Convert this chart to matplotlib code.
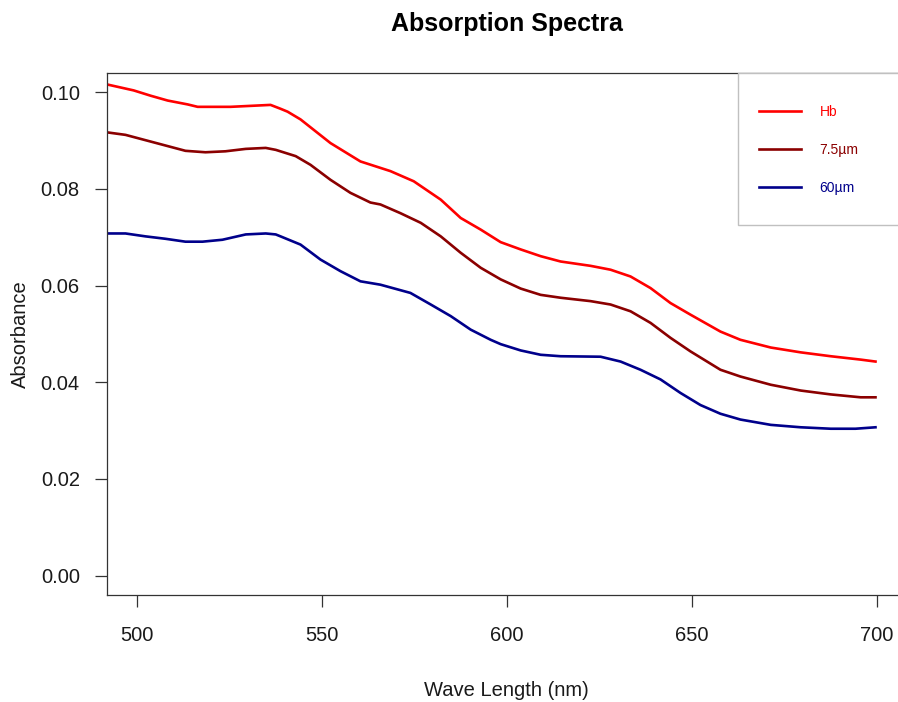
import matplotlib
matplotlib.use("Agg")
import matplotlib.pyplot as plt
from matplotlib.patches import Rectangle

plt.rcParams['font.family'] = ['Liberation Sans', 'DejaVu Sans']

# values
hb_wl = [492.2, 499.2, 503.8, 508.4, 513.8, 516.5, 525.4, 536.2, 538.9, 540.8,
         544.3, 552.4, 560.5, 568.6, 574.9, 582.2, 587.6, 593.0, 598.4, 603.8,
         609.2, 614.6, 622.7, 628.1, 633.5, 638.9, 644.3, 649.7, 657.8, 663.2,
         671.4, 679.5, 687.6, 695.7, 699.7]
hb_abs = [0.1016, 0.1004, 0.0993, 0.0983, 0.0975, 0.0970, 0.0970, 0.0974, 0.0966, 0.0960,
          0.0944, 0.0895, 0.0857, 0.0837, 0.0816, 0.0778, 0.0740, 0.0716, 0.0690, 0.0675,
          0.0661, 0.0650, 0.0641, 0.0633, 0.0619, 0.0595, 0.0564, 0.0540, 0.0505, 0.0488,
          0.0472, 0.0462, 0.0454, 0.0447, 0.0443]

wl_75 = [492.2, 497.0, 502.4, 507.8, 513.2, 518.6, 524.0, 529.5, 534.9, 537.6,
         543.0, 547.0, 552.4, 557.8, 563.2, 565.9, 571.3, 576.8, 582.2, 587.6,
         593.0, 598.4, 603.8, 609.2, 614.6, 622.7, 628.1, 633.5, 638.9, 644.3,
         649.7, 657.8, 663.2, 671.4, 679.5, 687.6, 695.7, 699.7]
abs_75 = [0.0917, 0.0912, 0.0901, 0.0890, 0.0879, 0.0876, 0.0878, 0.0883, 0.0885, 0.0881,
          0.0868, 0.0850, 0.0819, 0.0792, 0.0772, 0.0768, 0.0750, 0.0730, 0.0702, 0.0668,
          0.0637, 0.0613, 0.0594, 0.0581, 0.0575, 0.0568, 0.0561, 0.0547, 0.0523, 0.0492,
          0.0464, 0.0426, 0.0412, 0.0395, 0.0383, 0.0375, 0.0369, 0.0369]

wl_60 = [492.2, 497.0, 502.4, 507.8, 513.2, 517.8, 523.2, 529.5, 534.9, 537.6,
         538.9, 544.3, 549.7, 555.1, 560.5, 565.9, 574.0, 579.5, 584.9, 590.3,
         595.7, 598.4, 603.8, 609.2, 614.6, 625.4, 630.8, 636.2, 641.6, 647.0,
         652.4, 657.8, 663.2, 671.4, 679.5, 687.6, 694.3, 699.7]
abs_60 = [0.0708, 0.0708, 0.0702, 0.0697, 0.0691, 0.0691, 0.0695, 0.0706, 0.0708, 0.0706,
          0.0702, 0.0685, 0.0654, 0.0630, 0.0609, 0.0602, 0.0585, 0.0561, 0.0537, 0.0509,
          0.0488, 0.0479, 0.0466, 0.0457, 0.0454, 0.0453, 0.0443, 0.0426, 0.0406, 0.0378,
          0.0353, 0.0335, 0.0323, 0.0312, 0.0307, 0.0304, 0.0304, 0.0307]

x_ticks = [500, 550, 600, 650, 700]
y_ticks = [0.00, 0.02, 0.04, 0.06, 0.08, 0.10]

fig = plt.figure(figsize=(8.98, 7.02), dpi=100)
# right side of the plot region runs past the picture edge, like the reference
ax = fig.add_axes([107 / 898, 107 / 702, 799.2 / 898, 522 / 702])

lw = 1.9
ax.plot(hb_wl, hb_abs, color='#FF0000', lw=lw, label='Hb')
ax.plot(wl_75, abs_75, color='#8B0000', lw=lw, label='7.5µm')
ax.plot(wl_60, abs_60, color='#00008B', lw=lw, label='60µm')

ax.set_xlim(492, 708)
ax.set_ylim(-0.004, 0.104)
ax.set_xticks(x_ticks)
ax.set_yticks(y_ticks)
ax.set_yticklabels(['%.2f' % v for v in y_ticks])
ax.tick_params(axis='both', length=8.6, width=0.9, color='#333333',
               labelsize=14.5, labelcolor='#1a1a1a')
ax.tick_params(axis='x', pad=14)
ax.tick_params(axis='y', pad=11)
for s in ax.spines.values():
    s.set_color('#333333')
    s.set_linewidth(0.9)

ax.set_title('Absorption Spectra', fontsize=18, fontweight='bold', pad=30)
ax.set_xlabel('Wave Length (nm)', fontsize=14.5, color='#1a1a1a')
ax.set_ylabel('Absorbance', fontsize=14.5, color='#1a1a1a')
ax.xaxis.set_label_coords(0.5, -0.164)
ax.yaxis.set_label_coords(-0.096, 0.5)

# legend box
ax.add_patch(Rectangle((0.7895, 0.7088), 0.2105, 0.2912, transform=ax.transAxes,
                       facecolor='white', edgecolor='#c0c0c0', lw=1.0,
                       clip_on=False, zorder=5))
leg = ax.legend(loc='upper left', bbox_to_anchor=(0.8158, 0.9395), frameon=False,
                borderpad=0, borderaxespad=0, fontsize=10, handlelength=3.0,
                handletextpad=1.35, labelspacing=1.73, labelcolor='linecolor')
leg.set_zorder(6)

fig.savefig('out.png', dpi=100)
